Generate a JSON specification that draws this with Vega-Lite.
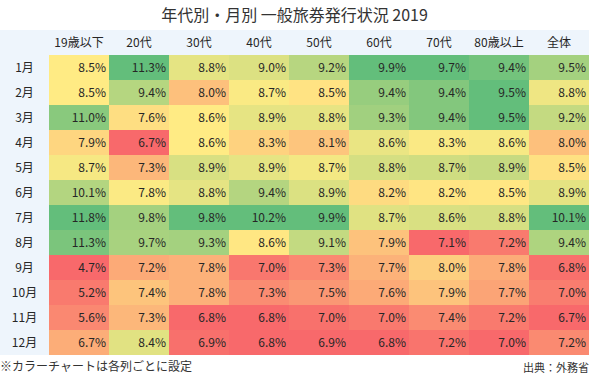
{
  "$schema": "https://vega.github.io/schema/vega-lite/v6.json",
  "padding": {"left": 0, "top": 8, "right": 0, "bottom": 0},
  "background": "white",
  "bounds": "flush",
  "spacing": 0,
  "config": {"font": "Noto Sans CJK JP", "view": {"stroke": null}},
  "title": {"text": "年代別・月別 一般旅券発行状況 2019", "fontSize": 16, "fontWeight": "normal", "color": "#333333", "anchor": "middle", "offset": 6, "font": "Noto Sans CJK JP"},
  "data": {"values": [
    {"m":"1月","c":"19歳以下","v":0.085},{"m":"1月","c":"20代","v":0.113},{"m":"1月","c":"30代","v":0.088},{"m":"1月","c":"40代","v":0.090},{"m":"1月","c":"50代","v":0.092},{"m":"1月","c":"60代","v":0.099},{"m":"1月","c":"70代","v":0.097},{"m":"1月","c":"80歳以上","v":0.094},{"m":"1月","c":"全体","v":0.095},
    {"m":"2月","c":"19歳以下","v":0.085},{"m":"2月","c":"20代","v":0.094},{"m":"2月","c":"30代","v":0.080},{"m":"2月","c":"40代","v":0.087},{"m":"2月","c":"50代","v":0.085},{"m":"2月","c":"60代","v":0.094},{"m":"2月","c":"70代","v":0.094},{"m":"2月","c":"80歳以上","v":0.095},{"m":"2月","c":"全体","v":0.088},
    {"m":"3月","c":"19歳以下","v":0.110},{"m":"3月","c":"20代","v":0.076},{"m":"3月","c":"30代","v":0.086},{"m":"3月","c":"40代","v":0.089},{"m":"3月","c":"50代","v":0.088},{"m":"3月","c":"60代","v":0.093},{"m":"3月","c":"70代","v":0.094},{"m":"3月","c":"80歳以上","v":0.095},{"m":"3月","c":"全体","v":0.092},
    {"m":"4月","c":"19歳以下","v":0.079},{"m":"4月","c":"20代","v":0.067},{"m":"4月","c":"30代","v":0.086},{"m":"4月","c":"40代","v":0.083},{"m":"4月","c":"50代","v":0.081},{"m":"4月","c":"60代","v":0.086},{"m":"4月","c":"70代","v":0.083},{"m":"4月","c":"80歳以上","v":0.086},{"m":"4月","c":"全体","v":0.080},
    {"m":"5月","c":"19歳以下","v":0.087},{"m":"5月","c":"20代","v":0.073},{"m":"5月","c":"30代","v":0.089},{"m":"5月","c":"40代","v":0.089},{"m":"5月","c":"50代","v":0.087},{"m":"5月","c":"60代","v":0.088},{"m":"5月","c":"70代","v":0.087},{"m":"5月","c":"80歳以上","v":0.089},{"m":"5月","c":"全体","v":0.085},
    {"m":"6月","c":"19歳以下","v":0.101},{"m":"6月","c":"20代","v":0.078},{"m":"6月","c":"30代","v":0.088},{"m":"6月","c":"40代","v":0.094},{"m":"6月","c":"50代","v":0.089},{"m":"6月","c":"60代","v":0.082},{"m":"6月","c":"70代","v":0.082},{"m":"6月","c":"80歳以上","v":0.085},{"m":"6月","c":"全体","v":0.089},
    {"m":"7月","c":"19歳以下","v":0.118},{"m":"7月","c":"20代","v":0.098},{"m":"7月","c":"30代","v":0.098},{"m":"7月","c":"40代","v":0.102},{"m":"7月","c":"50代","v":0.099},{"m":"7月","c":"60代","v":0.087},{"m":"7月","c":"70代","v":0.086},{"m":"7月","c":"80歳以上","v":0.088},{"m":"7月","c":"全体","v":0.101},
    {"m":"8月","c":"19歳以下","v":0.113},{"m":"8月","c":"20代","v":0.097},{"m":"8月","c":"30代","v":0.093},{"m":"8月","c":"40代","v":0.086},{"m":"8月","c":"50代","v":0.091},{"m":"8月","c":"60代","v":0.079},{"m":"8月","c":"70代","v":0.071},{"m":"8月","c":"80歳以上","v":0.072},{"m":"8月","c":"全体","v":0.094},
    {"m":"9月","c":"19歳以下","v":0.047},{"m":"9月","c":"20代","v":0.072},{"m":"9月","c":"30代","v":0.078},{"m":"9月","c":"40代","v":0.070},{"m":"9月","c":"50代","v":0.073},{"m":"9月","c":"60代","v":0.077},{"m":"9月","c":"70代","v":0.080},{"m":"9月","c":"80歳以上","v":0.078},{"m":"9月","c":"全体","v":0.068},
    {"m":"10月","c":"19歳以下","v":0.052},{"m":"10月","c":"20代","v":0.074},{"m":"10月","c":"30代","v":0.078},{"m":"10月","c":"40代","v":0.073},{"m":"10月","c":"50代","v":0.075},{"m":"10月","c":"60代","v":0.076},{"m":"10月","c":"70代","v":0.079},{"m":"10月","c":"80歳以上","v":0.077},{"m":"10月","c":"全体","v":0.070},
    {"m":"11月","c":"19歳以下","v":0.056},{"m":"11月","c":"20代","v":0.073},{"m":"11月","c":"30代","v":0.068},{"m":"11月","c":"40代","v":0.068},{"m":"11月","c":"50代","v":0.070},{"m":"11月","c":"60代","v":0.070},{"m":"11月","c":"70代","v":0.074},{"m":"11月","c":"80歳以上","v":0.072},{"m":"11月","c":"全体","v":0.067},
    {"m":"12月","c":"19歳以下","v":0.067},{"m":"12月","c":"20代","v":0.084},{"m":"12月","c":"30代","v":0.069},{"m":"12月","c":"40代","v":0.068},{"m":"12月","c":"50代","v":0.069},{"m":"12月","c":"60代","v":0.068},{"m":"12月","c":"70代","v":0.072},{"m":"12月","c":"80歳以上","v":0.070},{"m":"12月","c":"全体","v":0.072}
  ]},
  "hconcat": [
    {
      "width": 49,
      "height": 325,
      "view": {"fill": "#EEF5FC", "stroke": null},
      "title": {"text": "※カラーチャートは各列ごとに設定", "orient": "bottom", "anchor": "start", "fontSize": 12, "fontWeight": "normal", "offset": 7, "color": "#333333", "font": "Noto Sans CJK JP"},
      "transform": [{"filter": {"field": "c", "equal": "全体"}}],
      "mark": {"type": "text", "fontSize": 12, "color": "#262626", "font": "Noto Sans CJK JP", "align": "center", "baseline": "middle"},
      "encoding": {
        "y": {"field": "m", "type": "nominal", "scale": {"domain": ["hdr","1月","2月","3月","4月","5月","6月","7月","8月","9月","10月","11月","12月"], "paddingInner": 0, "paddingOuter": 0}, "axis": null},
        "text": {"field": "m", "type": "nominal"}
      }
    },
    {
      "width": 540,
      "height": 325,
      "view": {"fill": "#EEF5FC", "stroke": null},
      "title": {"text": "出典：外務省", "orient": "bottom", "anchor": "end", "fontSize": 11, "fontWeight": "normal", "offset": 8, "color": "#333333", "font": "Noto Sans CJK JP"},
      "encoding": {
        "x": {"field": "c", "type": "nominal", "scale": {"domain": ["19歳以下","20代","30代","40代","50代","60代","70代","80歳以上","全体"], "paddingInner": 0, "paddingOuter": 0}, "axis": null},
        "y": {"field": "m", "type": "nominal", "scale": {"domain": ["hdr","1月","2月","3月","4月","5月","6月","7月","8月","9月","10月","11月","12月"], "paddingInner": 0, "paddingOuter": 0}, "axis": null}
      },
      "layer": [
        {"transform": [{"filter": {"field": "c", "equal": "19歳以下"}}], "mark": "rect", "encoding": {"color": {"field": "v", "type": "quantitative", "legend": null, "scale": {"domain": [0.047, 0.085, 0.118], "range": ["#F8696B","#FFEB84","#63BE7B"], "interpolate": "rgb"}}}},
        {"transform": [{"filter": {"field": "c", "equal": "20代"}}], "mark": "rect", "encoding": {"color": {"field": "v", "type": "quantitative", "legend": null, "scale": {"domain": [0.067, 0.077, 0.113], "range": ["#F8696B","#FFEB84","#63BE7B"], "interpolate": "rgb"}}}},
        {"transform": [{"filter": {"field": "c", "equal": "30代"}}], "mark": "rect", "encoding": {"color": {"field": "v", "type": "quantitative", "legend": null, "scale": {"domain": [0.068, 0.086, 0.098], "range": ["#F8696B","#FFEB84","#63BE7B"], "interpolate": "rgb"}}}},
        {"transform": [{"filter": {"field": "c", "equal": "40代"}}], "mark": "rect", "encoding": {"color": {"field": "v", "type": "quantitative", "legend": null, "scale": {"domain": [0.068, 0.0865, 0.102], "range": ["#F8696B","#FFEB84","#63BE7B"], "interpolate": "rgb"}}}},
        {"transform": [{"filter": {"field": "c", "equal": "50代"}}], "mark": "rect", "encoding": {"color": {"field": "v", "type": "quantitative", "legend": null, "scale": {"domain": [0.069, 0.086, 0.099], "range": ["#F8696B","#FFEB84","#63BE7B"], "interpolate": "rgb"}}}},
        {"transform": [{"filter": {"field": "c", "equal": "60代"}}], "mark": "rect", "encoding": {"color": {"field": "v", "type": "quantitative", "legend": null, "scale": {"domain": [0.068, 0.084, 0.099], "range": ["#F8696B","#FFEB84","#63BE7B"], "interpolate": "rgb"}}}},
        {"transform": [{"filter": {"field": "c", "equal": "70代"}}], "mark": "rect", "encoding": {"color": {"field": "v", "type": "quantitative", "legend": null, "scale": {"domain": [0.071, 0.0825, 0.097], "range": ["#F8696B","#FFEB84","#63BE7B"], "interpolate": "rgb"}}}},
        {"transform": [{"filter": {"field": "c", "equal": "80歳以上"}}], "mark": "rect", "encoding": {"color": {"field": "v", "type": "quantitative", "legend": null, "scale": {"domain": [0.070, 0.0855, 0.095], "range": ["#F8696B","#FFEB84","#63BE7B"], "interpolate": "rgb"}}}},
        {"transform": [{"filter": {"field": "c", "equal": "全体"}}], "mark": "rect", "encoding": {"color": {"field": "v", "type": "quantitative", "legend": null, "scale": {"domain": [0.067, 0.0865, 0.101], "range": ["#F8696B","#FFEB84","#63BE7B"], "interpolate": "rgb"}}}},
        {
          "transform": [{"filter": {"field": "m", "equal": "1月"}}],
          "mark": {"type": "text", "fontSize": 12, "color": "#262626", "font": "Noto Sans CJK JP", "align": "center", "baseline": "middle"},
          "encoding": {"y": {"datum": "hdr", "type": "nominal"}, "text": {"field": "c", "type": "nominal"}}
        },
        {
          "mark": {"type": "text", "fontSize": 12, "color": "#262626", "font": "Noto Sans CJK JP", "align": "right", "baseline": "middle", "dx": -3},
          "encoding": {
            "x": {"field": "c", "type": "nominal", "bandPosition": 1},
            "text": {"field": "v", "type": "quantitative", "format": ".1%"}
          }
        }
      ],
      "resolve": {"scale": {"color": "independent"}}
    }
  ]
}
